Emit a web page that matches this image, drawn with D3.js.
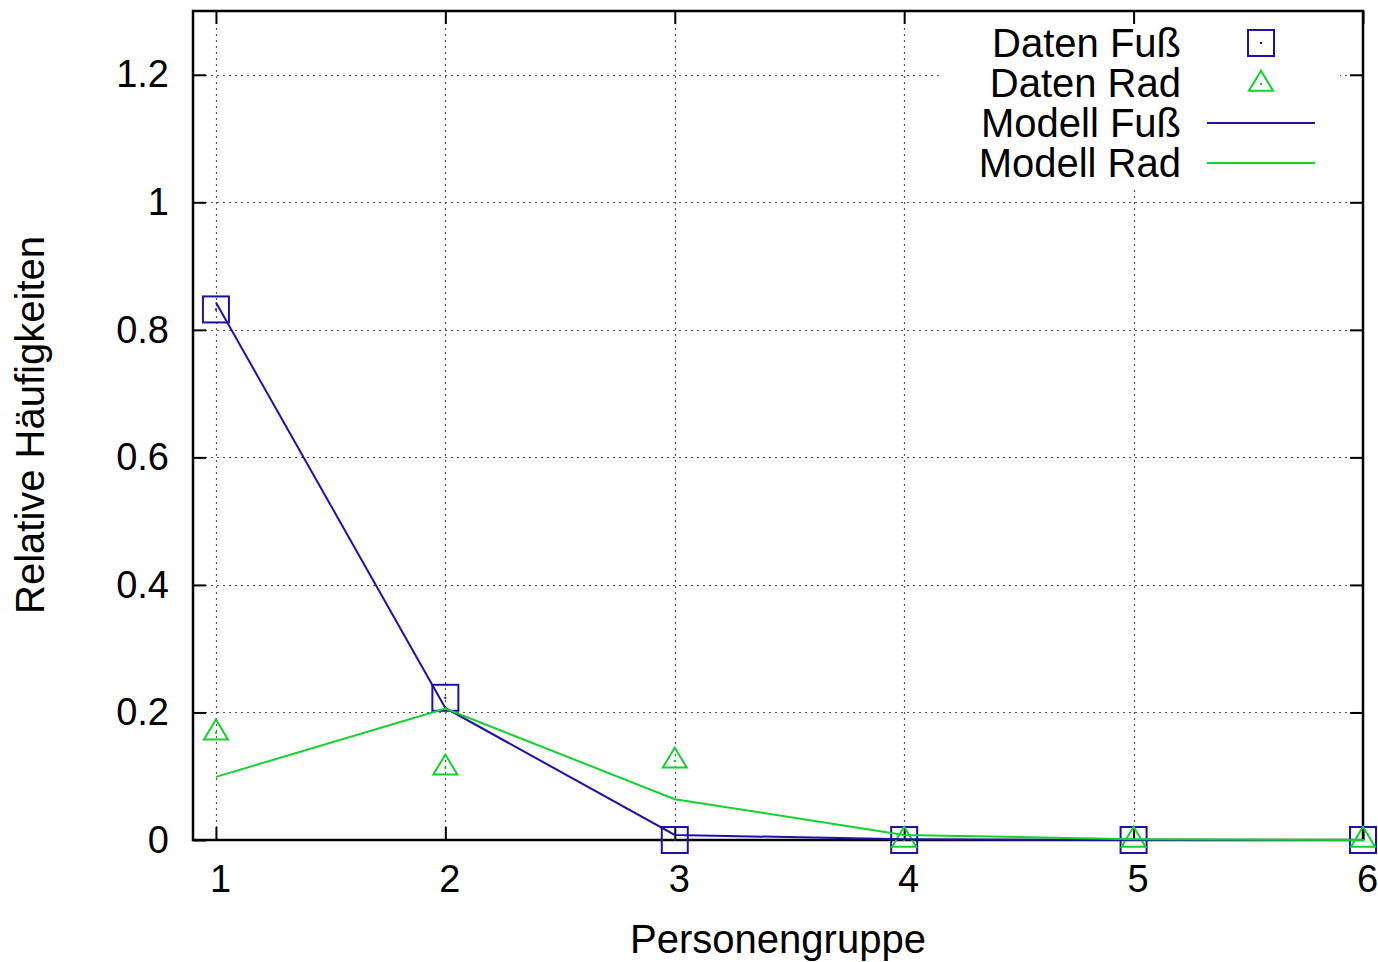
<!DOCTYPE html>
<html>
<head>
<meta charset="utf-8">
<script src="https://cdn.jsdelivr.net/npm/d3@7"></script>
<style>
  body { margin: 0; background: #fff; }
  text { font-family: "Liberation Sans", Helvetica, Arial, sans-serif; fill: #000; }
</style>
</head>
<body>
<div class="grafico"></div>
<script>
// Personengruppen (x-Achse)
var gruppen = [1, 2, 3, 4, 5, 6];
// Messdaten
var datenFuss = [0.832, 0.223, 0.0, 0.0, 0.0, 0.0];
var datenRad = [0.168, 0.113, 0.124, 0.0, 0.0, 0.0];
// Modellwerte
var modellFuss = [0.843, 0.207, 0.008, 0.001, 0.0, 0.0];
var modellRad = [0.099, 0.206, 0.064, 0.008, 0.001, 0.0];
// Ticks
var xTicks = [1, 2, 3, 4, 5, 6];
var yTicks = [0, 0.2, 0.4, 0.6, 0.8, 1, 1.2];
var legende = ["Daten Fuß", "Daten Rad", "Modell Fuß", "Modell Rad"];

var blau = "#1c12aa";
var gruen = "#14d22c";
var fs = 38;   // Ticks
var fsL = 40;  // Beschriftungen und Legende

var width = 1378, height = 962;
var mLeft = 193, mRight = 1363, mTop = 11, mBottom = 840;

var svg = d3.select(".grafico").append("svg")
  .attr("width", width)
  .attr("height", height);

var x = d3.scaleLinear().domain([0.9, 6]).range([mLeft, mRight]);
var y = d3.scaleLinear().domain([0, 1.3]).range([mBottom, mTop]);

//Gitter
var grid = svg.append("g")
  .attr("stroke", "#555")
  .attr("stroke-width", 1.2)
  .attr("stroke-dasharray", "2,4");
grid.selectAll(".gx").data(xTicks.filter(function(d){ return d < 6; }))
  .enter().append("line")
  .attr("x1", function(d){ return Math.round(x(d)) + 0.5; })
  .attr("x2", function(d){ return Math.round(x(d)) + 0.5; })
  .attr("y1", mBottom).attr("y2", mTop);
grid.selectAll(".gy").data(yTicks.filter(function(d){ return d > 0; }))
  .enter().append("line")
  .attr("y1", function(d){ return Math.round(y(d)) + 0.5; })
  .attr("y2", function(d){ return Math.round(y(d)) + 0.5; })
  .attr("x1", mLeft).attr("x2", mRight);

//Legendenhintergrund verdeckt das Gitter
svg.append("rect")
  .attr("x", 943).attr("y", mTop + 1)
  .attr("width", 397).attr("height", 176)
  .attr("fill", "#fff");

//Achsen (Ticks innen, gespiegelt)
var tickLen = 13;
var xAxisB = d3.axisBottom(x).tickValues(xTicks).tickSize(-tickLen).tickPadding(25)
  .tickFormat(d3.format("d"));
var xAxisT = d3.axisTop(x).tickValues(xTicks).tickSize(-tickLen).tickFormat("");
var yAxisL = d3.axisLeft(y).tickValues(yTicks).tickSize(-tickLen).tickPadding(24)
  .tickFormat(function(d){ return String(+d.toFixed(1)); });
var yAxisR = d3.axisRight(y).tickValues(yTicks.filter(function(d){ return d > 0; }))
  .tickSize(-tickLen).tickFormat("");

function styleAxis(g) {
  g.select(".domain").remove();
  g.selectAll(".tick line").attr("stroke", "#000").attr("stroke-width", 2);
  g.selectAll(".tick text").attr("font-size", fs)
    .attr("font-family", "'Liberation Sans', Helvetica, Arial, sans-serif");
}
svg.append("g").attr("transform", "translate(0," + mBottom + ")").call(xAxisB).call(styleAxis)
  .selectAll(".tick text").attr("dy", "0.71em").attr("dx", 4);
svg.append("g").attr("transform", "translate(0," + mTop + ")").call(xAxisT).call(styleAxis);
svg.append("g").attr("transform", "translate(" + mLeft + ",0)").call(yAxisL).call(styleAxis);
svg.append("g").attr("transform", "translate(" + mRight + ",0)").call(yAxisR).call(styleAxis);

//Rahmen
svg.append("rect")
  .attr("x", mLeft).attr("y", mTop)
  .attr("width", mRight - mLeft).attr("height", mBottom - mTop)
  .attr("fill", "none").attr("stroke", "#000").attr("stroke-width", 2.5);

//Achsenbeschriftungen
svg.append("text")
  .attr("x", 778).attr("y", 953)
  .attr("text-anchor", "middle")
  .attr("font-size", fsL)
  .text("Personengruppe");
svg.append("text")
  .attr("transform", "translate(44,425) rotate(-90)")
  .attr("text-anchor", "middle")
  .attr("font-size", fsL)
  .text("Relative Häufigkeiten");

//Punkte und Linien
function punkte(werte) {
  return werte.map(function(v, i){ return { x: gruppen[i], y: v }; });
}
var linie = d3.line()
  .x(function(d){ return x(d.x); })
  .y(function(d){ return y(d.y); });

var sq = 26;
function quadrat(g, cx, cy) {
  g.append("rect")
    .attr("x", cx - sq / 2).attr("y", cy - sq / 2)
    .attr("width", sq).attr("height", sq)
    .attr("fill", "none").attr("stroke", blau).attr("stroke-width", 2);
  g.append("rect").attr("x", cx - 1).attr("y", cy - 1).attr("width", 2).attr("height", 2).attr("fill", blau);
}
function dreieck(g, cx, cy) {
  var w = 24, h = 20;
  g.append("path")
    .attr("d", "M" + (cx - w / 2) + "," + (cy + h / 3) +
      "L" + (cx + w / 2) + "," + (cy + h / 3) +
      "L" + cx + "," + (cy - 2 * h / 3) + "Z")
    .attr("fill", "none").attr("stroke", gruen).attr("stroke-width", 2);
  g.append("rect").attr("x", cx - 1).attr("y", cy - 1).attr("width", 2).attr("height", 2).attr("fill", gruen);
}

var pts = svg.append("g");
punkte(datenFuss).forEach(function(d){ quadrat(pts, x(d.x), y(d.y)); });
punkte(datenRad).forEach(function(d){ dreieck(pts, x(d.x), y(d.y)); });

svg.append("path").datum(punkte(modellFuss))
  .attr("d", linie).attr("fill", "none").attr("stroke", blau).attr("stroke-width", 2);
svg.append("path").datum(punkte(modellRad))
  .attr("d", linie).attr("fill", "none").attr("stroke", gruen).attr("stroke-width", 2);

//Legende
var legY = [43, 83, 123, 163];
var leg = svg.append("g");
leg.selectAll("text").data(legende).enter().append("text")
  .attr("x", 1181)
  .attr("y", function(d, i){ return legY[i]; })
  .attr("dy", "0.35em")
  .attr("text-anchor", "end")
  .attr("font-size", fsL)
  .text(function(d){ return d; });
quadrat(leg, 1261, legY[0]);
dreieck(leg, 1261, legY[1] + 1);
leg.append("line").attr("x1", 1207).attr("x2", 1315).attr("y1", legY[2]).attr("y2", legY[2])
  .attr("stroke", blau).attr("stroke-width", 2);
leg.append("line").attr("x1", 1207).attr("x2", 1315).attr("y1", legY[3]).attr("y2", legY[3])
  .attr("stroke", gruen).attr("stroke-width", 2);
</script>
</body>
</html>
